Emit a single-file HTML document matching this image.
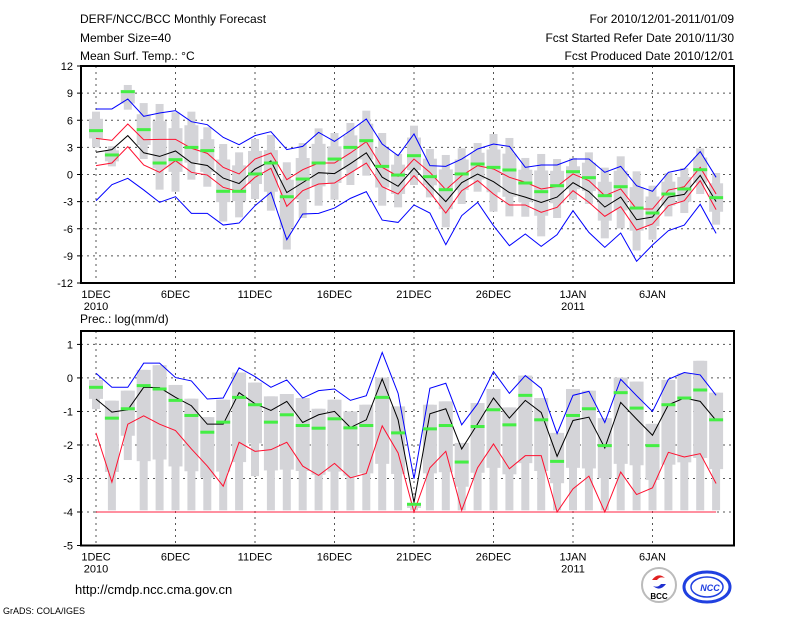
<!DOCTYPE html>
<html><head><meta charset="utf-8">
<style>
body{margin:0;background:#fff;}
svg{display:block;font-family:"Liberation Sans",sans-serif;}
</style></head>
<body>
<svg id="chart" width="800" height="618" viewBox="0 0 800 618">
<rect width="800" height="618" fill="#fff"/>
<g font-size="12" fill="#000">
<text x="80" y="23">DERF/NCC/BCC Monthly Forecast</text>
<text x="80" y="42">Member Size=40</text>
<text x="80" y="60">Mean Surf. Temp.: °C</text>
<text x="734" y="23" text-anchor="end">For 2010/12/01-2011/01/09</text>
<text x="734" y="42" text-anchor="end">Fcst Started Refer Date 2010/11/30</text>
<text x="734" y="60" text-anchor="end">Fcst Produced Date 2010/12/01</text>
<text x="80" y="323">Prec.: log(mm/d)</text>
<text x="75" y="594" font-size="13">http://cmdp.ncc.cma.gov.cn</text>
<text x="3" y="614" font-size="9">GrADS: COLA/IGES</text>
</g>
<g>
<circle cx="659" cy="585" r="17" fill="#fff" stroke="#bbb" stroke-width="2"/>
<path d="M652 580 q6 -8 13 -2 q-5 -2 -8 2 z" fill="#e02020"/>
<path d="M666 584 q-6 8 -13 2 q5 2 8 -2 z" fill="#2030d0"/>
<text x="659" y="599" font-size="8" font-weight="bold" text-anchor="middle" fill="#000">BCC</text>
</g>
<g>
<ellipse cx="707" cy="587" rx="23" ry="15" fill="#fff" stroke="#2040e0" stroke-width="3"/>
<ellipse cx="707" cy="587" rx="16" ry="10" fill="none" stroke="#2040e0" stroke-width="1.5"/>
<text x="710" y="591" font-size="9" font-weight="bold" font-style="italic" text-anchor="middle" fill="#2040e0">NCC</text>
</g>
<g id="plots"></g>
</svg>
<script>
// ---- Temperature panel data (°C), days 1 Dec .. 9 Jan ----
const tMean=[2.46,2.75,4.3,2.4,2.0,2.6,1.3,1.0,-0.4,-1.0,0.6,1.5,-2.0,-0.9,0.2,0.1,1.2,2.4,-0.3,-1.3,0.7,-1.2,-3.0,-0.9,0.05,-0.8,-2.0,-2.5,-3.1,-2.5,-0.9,-1.9,-3.6,-2.5,-5.0,-4.7,-2.5,-2.2,-0.1,-3.0];
const tRedHi=[4.0,3.78,5.59,3.85,3.89,3.89,2.9,2.34,0.79,0.06,1.71,2.38,-0.57,0.53,1.27,1.27,2.38,3.63,0.79,-0.2,1.71,0.24,-1.68,-0.13,0.98,0.61,-0.31,-0.86,-1.6,-1.31,0.06,-0.68,-2.34,-1.6,-3.82,-3.82,-1.72,-1.35,0.79,-2.15];
const tRedLo=[0.98,1.27,3.08,1.05,0.24,1.53,0.24,-0.06,-1.42,-1.9,-0.31,0.68,-3.52,-1.79,-1.05,-0.94,0.17,1.27,-1.35,-2.16,-0.13,-1.97,-4.26,-1.79,-0.68,-2.16,-3.37,-3.37,-4.19,-3.63,-1.79,-3.08,-4.63,-3.56,-6.14,-5.47,-3.45,-2.9,-0.68,-3.89];
const tBlueHi=[7.25,7.25,8.35,6.43,6.8,7.06,5.84,5.51,4.11,3.3,4.3,4.74,2.75,3.11,4.66,3.66,4.85,6.14,3.37,2.08,4.48,0.98,0.9,1.71,2.82,3.37,3.11,0.79,1.05,1.05,1.71,1.71,0.24,0.9,-1.24,-1.86,0.24,0.61,2.53,-0.31];
const tBlueLo=[-2.9,-1.12,-0.42,-1.71,-3.08,-2.45,-4.3,-4.3,-5.59,-5.37,-3.45,-1.97,-7.21,-4.37,-4.3,-3.71,-2.64,-1.9,-5.04,-5.3,-3.37,-4.26,-7.76,-4.55,-3.08,-5.66,-7.87,-6.58,-7.95,-6.65,-4.0,-6.4,-8.06,-6.47,-9.6,-7.8,-6.21,-5.59,-3.3,-6.51];
const tObs=[4.85,2.16,9.16,4.96,1.27,1.64,3.0,2.64,-1.86,-1.86,0.06,1.27,-2.46,-0.5,1.27,1.71,3.0,3.74,0.9,-0.06,2.08,-0.24,-1.68,0.06,1.16,0.79,0.5,-0.94,-1.9,-1.24,0.31,-0.35,-2.34,-1.35,-3.71,-4.26,-2.16,-1.6,0.53,-2.56];
const tMax=[6.95,3.12,9.9,7.9,7.8,6.88,6.95,5.22,3.37,2.45,3.93,4.37,1.35,3.48,5.1,4.59,5.7,7.06,4.59,2.27,5.4,2.82,2.16,2.89,3.48,4.48,4.04,1.83,2.27,1.71,1.83,2.45,0.76,2.01,0.35,-1.24,0.17,0.72,2.89,0.17];
const tMin=[3.0,0.9,7.17,1.71,-1.68,-1.9,-0.57,-1.35,-5.2,-4.74,-2.71,-4.0,-8.3,-4.81,-3.45,-2.78,-1.16,-0.13,-3.45,-3.63,-1.16,-2.53,-5.84,-3.26,-1.9,-4.11,-4.63,-4.67,-6.84,-4.81,-2.78,-3.26,-7.06,-5.96,-8.4,-7.21,-4.63,-4.26,-2.16,-5.55];
const tTicks=[12,9,6,3,0,-3,-6,-9,-12];
// ---- Precipitation panel data (log mm/d) ----
const pMean=[-0.63,-1.02,-0.95,-0.28,-0.29,-0.58,-0.83,-1.38,-1.38,-0.44,-0.77,-0.97,-0.70,-1.33,-1.10,-1.00,-1.48,-1.25,-0.03,-1.25,-3.72,-1.07,-0.92,-2.12,-1.37,-0.60,-1.20,-0.67,-1.03,-2.34,-1.27,-1.17,-2.09,-0.73,-1.23,-1.71,-0.80,-0.60,-0.70,-1.27];
const pBlueHi=[0.14,-0.28,-0.28,0.44,0.44,0.01,-0.09,-0.63,-0.60,0.30,0.04,-0.28,-0.06,-0.60,-0.38,-0.33,-0.67,-0.53,0.76,-0.46,-3.01,-0.31,-0.16,-1.40,-0.77,0.19,-0.46,0.07,-0.31,-1.66,-0.52,-0.40,-1.33,-0.04,-0.53,-1.0,-0.04,0.16,0.09,-0.52];
const pRedLo=[-1.64,-3.11,-1.38,-1.13,-1.38,-1.57,-2.12,-2.63,-3.23,-1.92,-2.19,-2.14,-1.92,-2.63,-2.91,-2.55,-2.98,-2.85,-1.43,-2.24,-4.0,-2.68,-2.19,-3.95,-2.68,-1.97,-2.71,-2.32,-2.32,-4.0,-3.31,-2.93,-4.0,-2.81,-3.48,-3.28,-2.22,-2.36,-2.26,-3.15];
const pFloor=-4;
const pObs=[-0.28,-1.20,-0.92,-0.23,-0.33,-0.67,-1.12,-1.62,-1.32,-0.58,-0.80,-1.32,-1.10,-1.42,-1.50,-1.22,-1.49,-1.42,-0.58,-1.64,-3.77,-1.52,-1.42,-2.51,-1.45,-0.95,-1.40,-0.52,-1.25,-2.49,-1.12,-0.92,-2.02,-0.44,-0.90,-2.02,-0.80,-0.60,-0.36,-1.25];
const pMax=[-0.06,-0.68,-0.38,0.24,0.38,-0.21,-0.62,-1.17,-0.65,0.16,-0.14,-0.55,-0.48,-0.60,-0.92,-0.65,-1.0,-0.80,0.01,-0.85,-3.75,-0.80,-0.70,-1.94,-0.75,-0.33,-0.88,0.07,-0.60,-1.64,-0.33,-0.38,-1.20,0.01,-0.11,-1.37,-0.06,0.14,0.51,-0.44];
const pMin=[-0.93,-3.95,-2.45,-3.95,-3.95,-3.95,-3.95,-3.95,-3.95,-3.95,-2.93,-3.95,-3.95,-3.95,-3.95,-3.95,-3.95,-3.95,-3.95,-3.95,-3.95,-3.95,-3.95,-3.95,-3.95,-3.95,-3.95,-3.95,-3.95,-3.95,-3.95,-3.95,-3.95,-3.95,-3.95,-3.95,-3.95,-3.95,-3.95,-3.95];
const pTicks=[1,0,-1,-2,-3,-4,-5];
const xLabels=["1DEC","6DEC","11DEC","16DEC","21DEC","26DEC","1JAN","6JAN"];
const xYears={"1DEC":"2010","1JAN":"2011"};

const NS="http://www.w3.org/2000/svg";
const root=document.getElementById('plots');
function mk(tag,attrs,parent){const e=document.createElementNS(NS,tag);for(const k in attrs)e.setAttribute(k,attrs[k]);(parent||root).appendChild(e);return e;}
const xS=i=>96+15.9*i;
const L=81,R=734;

function panel(name,top,bot,vmax,vmin,ticks,series,boxes,obs,boxMode,floor){
  const g=mk('g',{});
  
  
  const yS=v=>top+(vmax-v)*(bot-top)/(vmax-vmin);
  ticks.forEach(t=>{
    if(t!==vmax&&t!==vmin){const l=mk('line',{x1:L,x2:R,y1:yS(t),y2:yS(t),stroke:'#555','stroke-dasharray':'2,4','stroke-width':1},g);
    
    }
    const tx=mk('text',{x:L-8,y:yS(t)+4,'font-size':11,'text-anchor':'end'},g);tx.textContent=t;
    
    
    const tk=mk('line',{x1:L-4,x2:L,y1:yS(t),y2:yS(t),stroke:'#000'},g);
    
    
  });
  xLabels.forEach((lab,k)=>{
    const x=xS(k*5);
    const l=mk('line',{x1:x,x2:x,y1:top,y2:bot,stroke:'#555','stroke-dasharray':'2,4'},g);
    
    
    const t=mk('text',{x:x,y:bot+15,'font-size':11,'text-anchor':'middle'},g);t.textContent=lab;
    
    
    if(xYears[lab]){const y=mk('text',{x:x,y:bot+27,'font-size':11,'text-anchor':'middle'},g);y.textContent=xYears[lab];
      
      }
  });
  boxes.max.forEach((mx,i)=>{
    const mn=boxes.min[i],x=xS(i);
    const r1=mk('rect',{x:x-4,width:8,y:yS(mx),height:Math.max(1,yS(mn)-yS(mx)),fill:'#d4d4d8'},g);
    
    
    let a,b;
    if(boxMode==='mid'){a=mx-(mx-mn)*0.2;b=mx-(mx-mn)*0.75;}else{a=mx;b=mx-(mx-mn)*0.65;}
    const r2=mk('rect',{x:x-7,width:14,y:yS(a),height:Math.max(1,yS(b)-yS(a)),fill:'#d4d4d8'},g);
    
    
  });
  if(floor!==undefined){
    const fl=mk('line',{x1:xS(0),x2:xS(39),y1:yS(floor),y2:yS(floor),stroke:'#ff2040','stroke-width':1},g);
    
    
  }
  series.forEach(s=>{
    const p=mk('polyline',{points:s.d.map((v,i)=>xS(i)+','+yS(v)).join(' '),fill:'none',stroke:s.c,'stroke-width':1},g);
    
    
  });
  obs.forEach((v,i)=>{
    const r=mk('rect',{x:xS(i)-7,width:14,y:yS(v)-1.5,height:3,fill:'#44ee44'},g);
    
    
  });
  const fr=mk('rect',{x:L,y:top,width:R-L,height:bot-top,fill:'none',stroke:'#000','stroke-width':2},g);
  
  
}
panel('temperature-panel',66,283,12,-12,tTicks,
 [{d:tBlueHi,c:'#0000ff',n:'temp-max-line'},{d:tBlueLo,c:'#0000ff',n:'temp-min-line'},
  {d:tRedHi,c:'#ff1030',n:'temp-upper-line'},{d:tRedLo,c:'#ff1030',n:'temp-lower-line'},
  {d:tMean,c:'#000',n:'temp-mean-line'}],{max:tMax,min:tMin},tObs,'mid');
panel('precip-panel',331,545.5,1.4,-5,pTicks,
 [{d:pBlueHi,c:'#0000ff',n:'precip-max-line'},{d:pRedLo,c:'#ff1030',n:'precip-lower-line'},
  {d:pMean,c:'#000',n:'precip-mean-line'}],{max:pMax,min:pMin},pObs,'top',pFloor);
</script>
</body></html>
